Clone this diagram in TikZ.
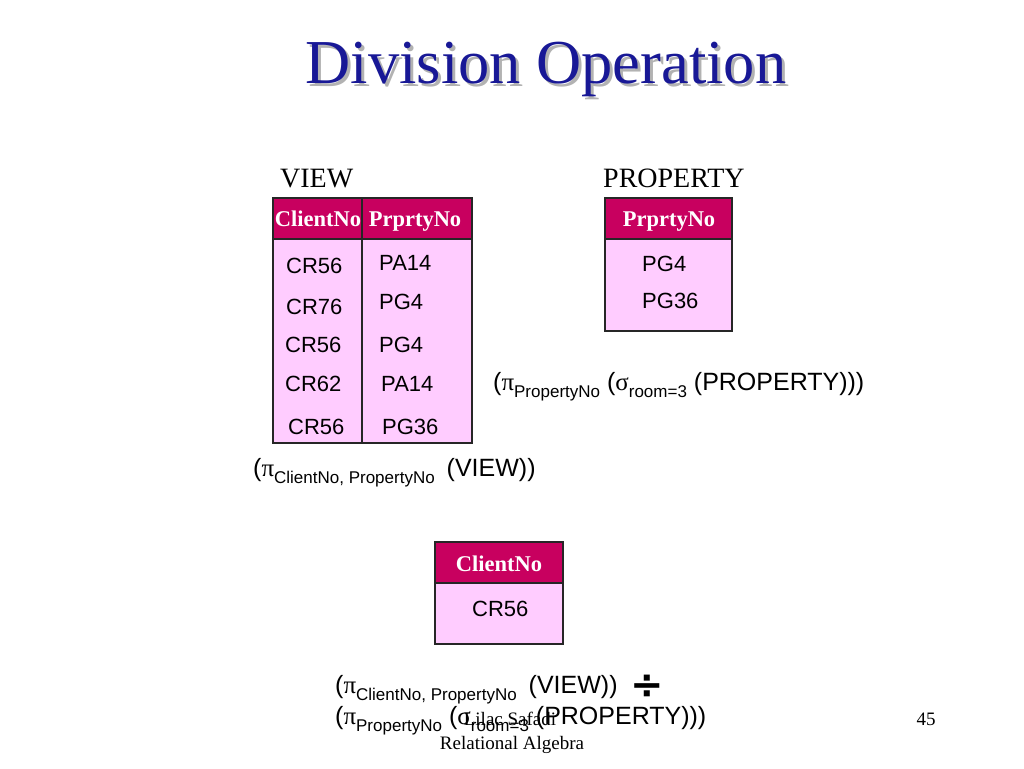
\documentclass[tikz,border=0pt]{standalone}
\usepackage{fontspec}
\setmainfont{Liberation Serif}
\setsansfont{Liberation Sans}
\newfontfamily\symfont{DejaVu Sans}
\usetikzlibrary{positioning}
\definecolor{titleblue}{RGB}{24,24,150}
\definecolor{headred}{RGB}{200,0,95}
\definecolor{bodypink}{RGB}{255,204,255}
\newcommand{\gpi}{{\rmfamily π}}
\newcommand{\gsig}{{\rmfamily σ}}
\newcommand{\lowtext}[1]{\raisebox{-7pt}{\fontsize{17}{17}\selectfont #1}}
\newcommand{\maketable}[5]{
	\coordinate (#1-nw) at (#2,#3);
	\coordinate (#1-se) at (#4,#5);
	\fill[bodypink] (#1-nw) rectangle (#1-se);
	\fill[headred] (#1-nw) rectangle (#4,#3+41);
	\draw[cellline] (#2,#3+41) -- (#4,#3+41);
	\draw[cellline] (#1-nw) rectangle (#1-se);
}

\begin{document}
\begin{tikzpicture}[x=1pt,y=-1pt,
	cellline/.style={draw=black!85,line width=1.2pt},
	hdr/.style={anchor=base,inner sep=0pt,text=white,font=\fontsize{22.5}{22.5}\selectfont\bfseries},
	cell/.style={anchor=base west,inner sep=0pt,font=\fontsize{22}{22}\selectfont\sffamily},
	expr/.style={anchor=base west,inner sep=0pt,font=\fontsize{25}{25}\selectfont\sffamily},
	caption/.style={anchor=base west,inner sep=0pt,font=\fontsize{28}{28}\selectfont},
	foot/.style={anchor=base,inner sep=0pt,font=\fontsize{19}{19}\selectfont}]
	\useasboundingbox (0,0) rectangle (1024,768);

	\node[anchor=base,inner sep=0pt,text=black!30,font=\fontsize{62.5}{62.5}\selectfont] (shadow) at (549,86) {Division Operation};
	\node[anchor=base,inner sep=0pt,text=titleblue,font=\fontsize{62.5}{62.5}\selectfont] (title) at (546,83) {Division Operation};

	% VIEW
	\node[caption] (viewcap) at (280,187) {VIEW};
	\maketable{view}{273}{198}{472}{443}
	\draw[cellline] (362,198) -- (362,443);
	\node[hdr] (vclient) at (318,226) {ClientNo};
	\node[hdr] (vprop) at (415,226) {PrprtyNo};
	\node[cell] (v1a) at (286,273) {CR56};
	\node[cell] (v1b) at (379,270) {PA14};
	\node[cell] (v2a) at (286,314) {CR76};
	\node[cell] (v2b) at (379,309) {PG4};
	\node[cell] (v3a) at (285,352) {CR56};
	\node[cell] (v3b) at (379,352) {PG4};
	\node[cell] (v4a) at (285,391) {CR62};
	\node[cell] (v4b) at (381,391) {PA14};
	\node[cell] (v5a) at (288,434) {CR56};
	\node[cell] (v5b) at (382,434) {PG36};
	\node[expr] (viewexpr) at (253,476) {(\gpi\lowtext{ClientNo, PropertyNo}\hspace{5pt} (VIEW))};

	% PROPERTY
	\node[caption] (propcap) at (603,187) {PROPERTY};
	\maketable{prop}{605}{198}{732}{331}
	\node[hdr] (pprop) at (669,226) {PrprtyNo};
	\node[cell] (p1) at (642,271) {PG4};
	\node[cell] (p2) at (642,308) {PG36};
	\node[expr] (propexpr) at (493,390) {(\gpi\lowtext{PropertyNo} (\gsig\lowtext{room=3} (PROPERTY)))};

	% result
	\maketable{res}{435}{542}{563}{644}
	\node[hdr] (rclient) at (499,571) {ClientNo};
	\node[cell] (r1) at (472,616) {CR56};

	\node[expr] (divline1) at (335,693) {(\gpi\lowtext{ClientNo, PropertyNo}\hspace{5pt} (VIEW))};
	\node[anchor=base west,inner sep=0pt,font=\fontsize{40}{40}\selectfont\symfont\bfseries] (divsign) at (630,698) {÷};
	\node[expr] (divline2) at (335,724) {(\gpi\lowtext{PropertyNo} (\gsig\lowtext{room=3} (PROPERTY)))};

	\node[foot] (author) at (510,725) {Lilac Safadi};
	\node[foot] (course) at (512,749) {Relational Algebra};
	\node[foot] (page) at (926,725) {45};
\end{tikzpicture}
\end{document}
